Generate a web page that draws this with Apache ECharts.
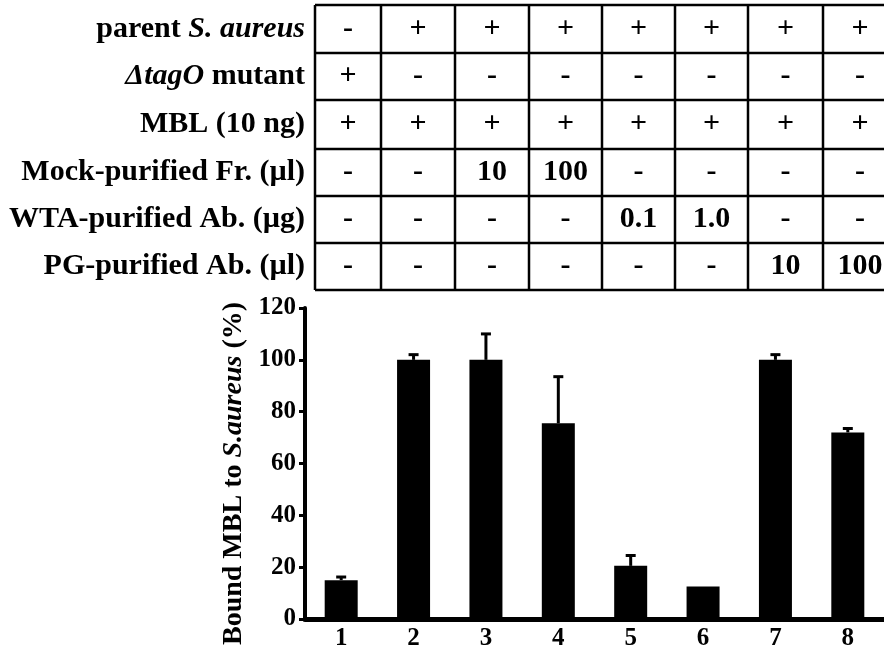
<!DOCTYPE html>
<html>
<head>
<meta charset="utf-8">
<script src="https://cdn.jsdelivr.net/npm/echarts@6/dist/echarts.min.js"></script>
<style>
  html, body { margin: 0; padding: 0; background: #fff; }
  #main { width: 884px; height: 652px; }
</style>
</head>
<body>
<div id="main"></div>
<script>
// 数据
const categories = ['1', '2', '3', '4', '5', '6', '7', '8']
const boundMbl = [15, 100, 100, 75.5, 20.5, 12.5, 100, 72]
const errUp = [1.2, 2, 10, 18, 4, 0, 2, 1.5]
const yTicks = { min: 0, max: 120, interval: 20 }

// 表格（上方条件表）
const rowLabels = [
  'parent {i|S. aureus}',
  '{i|ΔtagO} mutant',
  'MBL (10 ng)',
  'Mock-purified Fr. (µl)',
  'WTA-purified Ab. (µg)',
  'PG-purified Ab. (µl)',
]
const tableCells = [
  ['-', '+', '+', '+', '+', '+', '+', '+'],
  ['+', '-', '-', '-', '-', '-', '-', '-'],
  ['+', '+', '+', '+', '+', '+', '+', '+'],
  ['-', '-', '10', '100', '-', '-', '-', '-'],
  ['-', '-', '-', '-', '0.1', '1.0', '-', '-'],
  ['-', '-', '-', '-', '-', '-', '10', '100'],
]

// 表格布局
const colEdges = [315, 381, 455, 529, 602, 675, 748, 823, 897]
const rowEdges = [5, 53, 100, 149, 196, 243, 290]
const labelRight = 305
const serif = 'Liberation Serif'
const tableFont = 30

const graphics = []
rowEdges.forEach((y) => {
  graphics.push({
    type: 'line',
    shape: { x1: colEdges[0], y1: y, x2: colEdges[colEdges.length - 1], y2: y },
    style: { stroke: '#000', lineWidth: 2.5 },
  })
})
colEdges.forEach((x) => {
  graphics.push({
    type: 'line',
    shape: { x1: x, y1: rowEdges[0], x2: x, y2: rowEdges[rowEdges.length - 1] },
    style: { stroke: '#000', lineWidth: 2.5 },
  })
})
rowLabels.forEach((label, r) => {
  const cy = (rowEdges[r] + rowEdges[r + 1]) / 2
  graphics.push({
    type: 'text',
    x: labelRight,
    y: cy,
    style: {
      text: label,
      align: 'right',
      verticalAlign: 'middle',
      fill: '#000',
      font: 'bold ' + tableFont + 'px ' + serif,
      rich: {
        i: { fontFamily: serif, fontWeight: 'bold', fontStyle: 'italic', fontSize: tableFont, fill: '#000' },
      },
    },
  })
  tableCells[r].forEach((val, c) => {
    graphics.push({
      type: 'text',
      x: (colEdges[c] + colEdges[c + 1]) / 2,
      y: cy,
      style: {
        text: val,
        align: 'center',
        verticalAlign: 'middle',
        fill: '#000',
        font: 'bold ' + tableFont + 'px ' + serif,
      },
    })
  })
})

const options = {
  backgroundColor: '#fff',
  animation: false,
  grid: { left: 305, right: -10, top: 308, bottom: 33 },
  xAxis: {
    type: 'category',
    data: categories,
    axisLine: { lineStyle: { color: '#000', width: 5 } },
    axisTick: { show: false },
    axisLabel: { color: '#000', fontFamily: serif, fontWeight: 'bold', fontSize: 25, margin: 7 },
  },
  yAxis: {
    type: 'value',
    min: yTicks.min,
    max: yTicks.max,
    interval: yTicks.interval,
    name: 'Bound MBL to {i|S.aureus} (%)',
    nameLocation: 'middle',
    nameRotate: 90,
    nameGap: 52,
    nameTextStyle: {
      color: '#000',
      fontFamily: serif,
      fontWeight: 'bold',
      fontSize: 28,
      padding: [0, 20, 0, 0],
      rich: {
        i: { fontFamily: serif, fontWeight: 'bold', fontStyle: 'italic', fontSize: 28, color: '#000' },
      },
    },
    axisLine: { show: true, lineStyle: { color: '#000', width: 4 } },
    axisTick: { show: true, length: 6, lineStyle: { color: '#000', width: 3 } },
    splitLine: { show: false },
    axisLabel: { color: '#000', fontFamily: serif, fontWeight: 'bold', fontSize: 25, margin: 9 },
  },
  series: [
    {
      type: 'bar',
      data: boundMbl,
      barWidth: 33,
      itemStyle: { color: '#000' },
    },
    {
      // 误差线（仅向上）
      type: 'custom',
      data: boundMbl.map((v, i) => [i, v, errUp[i]]),
      z: 5,
      renderItem: (params, api) => {
        const e = api.value(2)
        if (!e) return null
        const base = api.coord([api.value(0), api.value(1)])
        const top = api.coord([api.value(0), api.value(1) + e])
        return {
          type: 'group',
          children: [
            { type: 'line', shape: { x1: base[0], y1: base[1], x2: top[0], y2: top[1] }, style: { stroke: '#000', lineWidth: 3 } },
            { type: 'line', shape: { x1: top[0] - 5, y1: top[1], x2: top[0] + 5, y2: top[1] }, style: { stroke: '#000', lineWidth: 3 } },
          ],
        }
      },
    },
  ],
  graphic: graphics,
}

const chart = echarts.init(document.getElementById('main'))
chart.setOption(options)
window.addEventListener('resize', () => {
  chart.resize()
})
</script>
</body>
</html>
